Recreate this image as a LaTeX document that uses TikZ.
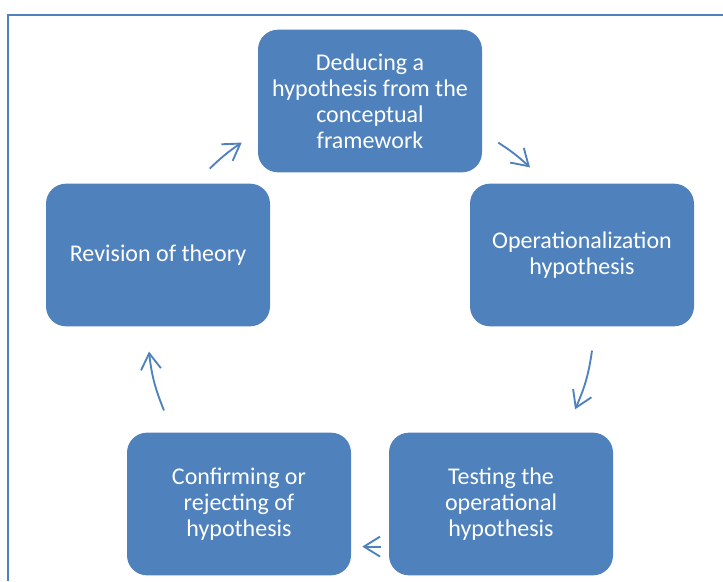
\documentclass[tikz,border=0pt]{standalone}
\usepackage{fontspec}
\setmainfont{Carlito}
\usetikzlibrary{arrows.meta}
\definecolor{smblue}{HTML}{4F81BD}

\begin{document}
\begin{tikzpicture}[x=0.75pt, y=-0.75pt,
    stage/.style={rectangle, rounded corners=15pt, fill=smblue, text=white,
      minimum width=168pt, minimum height=107pt, align=center,
      font=\fontsize{18}{19.5}\selectfont},
    flow/.style={draw=smblue, line width=1.4pt,
      -{Straight Barb[length=12pt, width=15pt]}}]
      \useasboundingbox (0,0) rectangle (723,581);
      \draw[smblue, line width=1.6pt] (8,581) -- (8,15) -- (723,15);
      % the five stages
      \node[stage] (deduce) at (370,101) {Deducing a\\hypothesis from the\\conceptual\\framework};
      \node[stage] (oper) at (582,255) {Operationalization\\hypothesis};
      \node[stage] (test) at (501,504) {Testing the\\operational\\hypothesis};
      \node[stage] (confirm) at (239,504) {Confirming or\\rejecting of\\hypothesis};
      \node[stage] (revise) at (158,255) {Revision of theory};
      % cycle arrows
      \draw[flow] ([shift={(16,-30)}]deduce.south east) to[bend left=5] ([shift={(-52,-16)}]oper.north);
      \draw[flow] ([shift={(10,24)}]oper.south) to[bend left=8] ([shift={(74,-23)}]test.north);
      \draw[flow] ([shift={(-8,-29)}]test.south west) -- ([shift={(11,-29)}]confirm.south east);
      \draw[flow] ([shift={(-75,-22)}]confirm.north) to[bend left=8] ([shift={(-9,25)}]revise.south);
      \draw[flow] ([shift={(-48,-4)}]deduce.south west) to[bend left=5] ([shift={(-16,-30)}]deduce.south west);
    \end{tikzpicture}
\end{document}
